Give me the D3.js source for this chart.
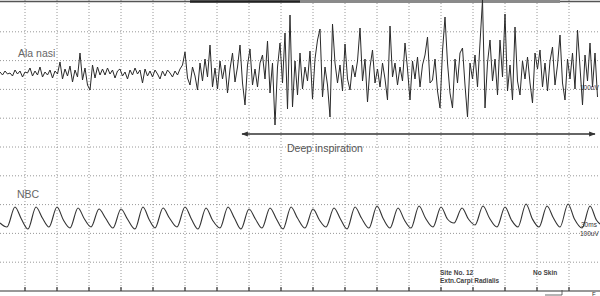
<!DOCTYPE html>
<html>
<head>
<meta charset="utf-8">
<script src="https://cdn.jsdelivr.net/npm/d3@7"></script>
<style>
  body { margin: 0; background: #fff; }
  svg { display: block; font-family: "Liberation Sans", Arial, sans-serif; }
  .grid line { stroke: #8c8c8c; stroke-width: 0.9; stroke-dasharray: 1,2; }
</style>
</head>
<body>
<svg id="chart" width="600" height="296"></svg>
<script>
var width = 600,
    height = 296;

// time axis in ms, 30 ms per division
var timeStart = -23.4375,
    timeEnd = 539.0625;
var gridTimes = d3.range(0, 540, 30);

// Ala nasi EMG, one sample every 2.34375 ms (deflection units)
var emgStep = 2.34375;
var alaNasi = [
  1,-2,2,-1,0,-3,3,-1,2,-4,1,0,5,-3,2,-2,6,-4,1,-2,3,-5,2,-1,
  11,-6,4,-3,7,-9,3,-4,20,-7,5,-12,-17,8,-5,6,-2,
  4,-2,5,-1,3,-5,2,4,-3,1,-6,3,-2,5,-1,3,-10,4,-3,2,-4,3,-1,-6,2,-3,3,0,-4,2,-2,4,8,
  21,-5,-12,6,-3,-17,10,-8,14,-4,28,-14,5,-16,12,-6,8,-20,4,20,-9,6,28,
  -10,-32,8,24,-12,4,-14,10,18,-6,32,-20,10,-52,6,30,-10,40,-36,58,-34,12,-22,20,
  -16,6,-8,22,-26,14,33,44,-24,6,-12,-44,49,10,-10,8,-18,29,-6,-17,
  8,-4,12,45,-8,14,-29,6,23,-10,4,-14,10,-6,-27,47,-4,10,-12,6,
  -8,30,4,-27,12,-6,16,-14,8,18,36,-10,-7,14,-18,-35,22,56,10,-20,
  -35,14,-10,20,25,-12,-44,10,-6,18,-14,30,73,-35,10,33,-8,14,-22,33,
  -4,59,-18,8,-27,46,-8,-22,12,-6,16,-10,-30,20,4,23,-14,10,-18,12,
  26,-12,8,38,-10,-27,14,-6,20,-16,43,6,-32,18,-8,30,-14,20,-24
];

// NBC trace: trough, peak and knee of every cycle
var nbcTroughTime = [-16.9,2.8,22.5,42.2,61.9,82.5,103.1,121.9,142.5,162.2,182.8,202.5,222.2,241.9,
                     262.5,282.2,301.9,322.5,342.2,361.9,382.5,402.2,421.9,442.5,462.2,481.9,501.6,522.2];
var nbcTrough = [-9,-11,-9,-10,-9,-10,-11,-10,-9,-11,-10,-11,-10,-11,-10,-9,-11,-10,-10,-10,-9,-5,-7,-9,-9,-9,-9,-10];
var nbcPeakTime = [-9.4,10.3,30,49.7,69.4,90,110.6,129.4,150,169.7,190.3,210,229.7,249.4,
                   270,289.7,309.4,330,349.7,369.4,390,409.7,429.4,450,469.7,489.4,509.1,529.7];
var nbcPeak = [11,11,11,10,9,9,11,10,11,10,11,9,10,11,9,10,11,12,10,12,11,10,12,11,14,12,14,12];
var nbcKneeTime = [-3.4,16.3,36,55.7,75.4,96,116.6,135.4,156,175.7,196.3,216,235.7,255.4,
                   276,295.7,315.4,336,355.7,375.4,396,415.7,435.4,456,475.7,495.4,515.1,535.7];
var nbcKnee = [-1,0,-2,-1,0,-1,-2,0,-1,-2,0,-1,-1,0,-2,-1,0,-1,-2,0,-1,-1,0,-2,-1,0,-1,-2];
var nbcStart = [-23.4, -5],
    nbcEnd = [539, -6];

var svg = d3.select('#chart');

var x = d3.scaleLinear().domain([timeStart, timeEnd]).range([0, width]);
var rows = d3.scaleLinear().domain([0, 10]).range([3, 291]);
var yEmg = d3.scaleLinear().domain([-30, 30]).range([103, 43]);
var yNbc = d3.scaleLinear().domain([-30, 30]).range([248, 188]);

// grid
var grid = svg.append('g').attr('class', 'grid');
grid.selectAll('line.v')
    .data(gridTimes).enter()
    .append('line')
    .attr('class', 'v')
    .attr('x1', d => x(d)).attr('x2', d => x(d))
    .attr('y1', 0).attr('y2', rows(10));
grid.selectAll('line.h')
    .data(d3.range(1, 10)).enter()
    .append('line')
    .attr('class', 'h')
    .attr('x1', 0).attr('x2', width)
    .attr('y1', d => rows(d)).attr('y2', d => rows(d));

// top border from the recorder
svg.append('line').attr('x1', 0).attr('x2', width).attr('y1', 1.5).attr('y2', 1.5)
    .attr('stroke', '#555').attr('stroke-width', 1.3);
svg.append('line').attr('x1', 190).attr('x2', 300).attr('y1', 1.5).attr('y2', 1.5)
    .attr('stroke', '#222').attr('stroke-width', 2.5);
svg.append('line').attr('x1', 300).attr('x2', 560).attr('y1', 1.5).attr('y2', 1.5)
    .attr('stroke', '#8a8a8a').attr('stroke-width', 3);

// bottom axis line with ticks
svg.append('line').attr('x1', 0).attr('x2', width).attr('y1', rows(10)).attr('y2', rows(10))
    .attr('stroke', '#333').attr('stroke-width', 1.2);
svg.selectAll('line.tick')
    .data(gridTimes).enter()
    .append('line')
    .attr('class', 'tick')
    .attr('x1', d => x(d)).attr('x2', d => x(d))
    .attr('y1', rows(10) - 4).attr('y2', rows(10))
    .attr('stroke', '#333').attr('stroke-width', 1.2);
svg.append('path').attr('d', 'M545,295H562V290').attr('fill', 'none')
    .attr('stroke', '#444').attr('stroke-width', 0.8);
svg.append('text').attr('x', 592).attr('y', 296).attr('font-size', 6).attr('fill', '#333').text('F');

// Ala nasi trace
var emgLine = d3.line()
    .x(function(d, i) { return x(timeStart + i * emgStep); })
    .y(function(d) { return yEmg(d); });
svg.append('path')
    .datum(alaNasi)
    .attr('d', emgLine)
    .attr('fill', 'none')
    .attr('stroke', '#2a2a2a')
    .attr('stroke-width', 1)
    .attr('stroke-linejoin', 'round');

// NBC trace
var nbcPoints = [nbcStart];
nbcPeakTime.forEach(function(t, i) {
  nbcPoints.push([nbcTroughTime[i], nbcTrough[i]]);
  nbcPoints.push([t, nbcPeak[i]]);
  nbcPoints.push([nbcKneeTime[i], nbcKnee[i]]);
});
nbcPoints.push(nbcEnd);

svg.append('path')
    .datum(nbcPoints)
    .attr('d', d3.line().curve(d3.curveMonotoneX)
      .x(d => x(d[0])).y(d => yNbc(d[1])))
    .attr('fill', 'none')
    .attr('stroke', '#333')
    .attr('stroke-width', 1.1);

// labels
svg.append('text').attr('x', 18).attr('y', 57).attr('font-size', 10.5).attr('fill', '#666').text('Ala nasi');
svg.append('text').attr('x', 17).attr('y', 198).attr('font-size', 10.5).attr('fill', '#666').text('NBC');

// deep inspiration arrow
svg.append('defs').append('marker')
    .attr('id', 'ah').attr('viewBox', '0 0 10 10')
    .attr('refX', 9).attr('refY', 5)
    .attr('markerWidth', 6).attr('markerHeight', 5)
    .attr('orient', 'auto-start-reverse')
    .append('path').attr('d', 'M0,1L10,5L0,9Z').attr('fill', '#333');
svg.append('line')
    .attr('x1', 242).attr('x2', 595).attr('y1', 134).attr('y2', 134)
    .attr('stroke', '#333').attr('stroke-width', 1.3)
    .attr('marker-start', 'url(#ah)').attr('marker-end', 'url(#ah)');
svg.append('text').attr('x', 287).attr('y', 152).attr('font-size', 10.5).attr('fill', '#555').text('Deep inspiration');

// scale notes
svg.append('text').attr('x', 580).attr('y', 90).attr('font-size', 6.5).attr('fill', '#333').text('100uV');
svg.append('text').attr('x', 581).attr('y', 227).attr('font-size', 6.5).attr('fill', '#333').text('30ms');
svg.append('text').attr('x', 580).attr('y', 236).attr('font-size', 6.5).attr('fill', '#333').text('100uV');

// site info
svg.append('text').attr('x', 440).attr('y', 275).attr('font-size', 6.5).attr('font-weight', 'bold').attr('fill', '#444').text('Site No. 12');
svg.append('text').attr('x', 440).attr('y', 283).attr('font-size', 6.5).attr('font-weight', 'bold').attr('fill', '#444').text('Extn.Carpi Radialis');
svg.append('text').attr('x', 533).attr('y', 275).attr('font-size', 6.5).attr('font-weight', 'bold').attr('fill', '#444').text('No Skin');
</script>
</body>
</html>
